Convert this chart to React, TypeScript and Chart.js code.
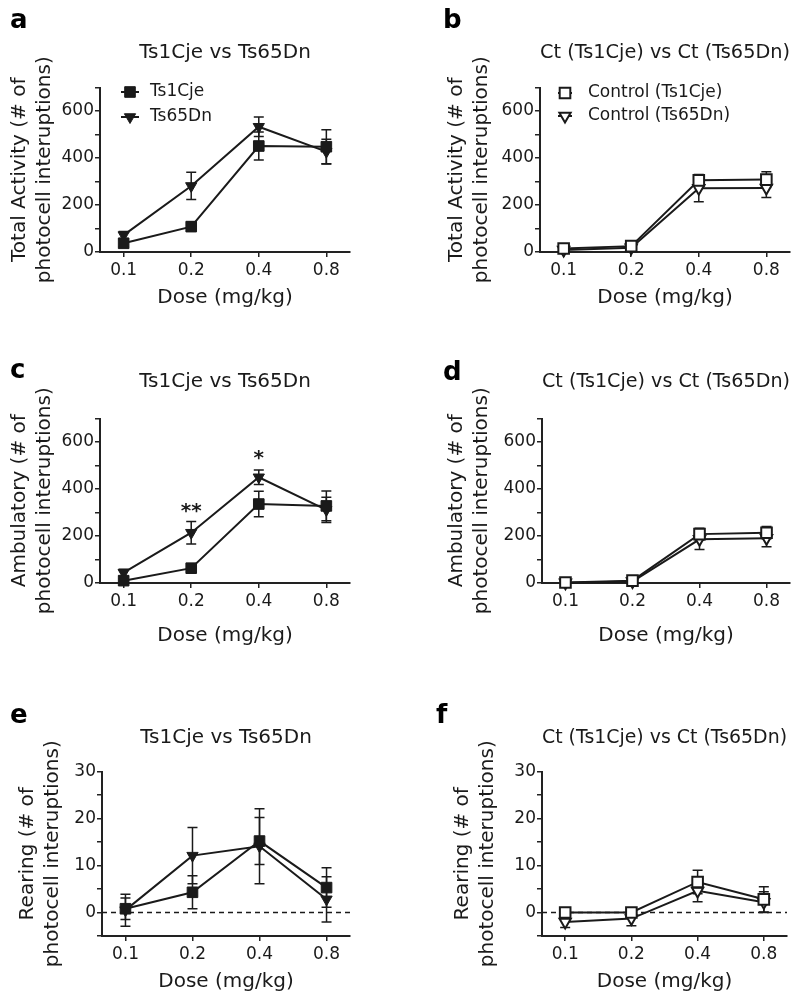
import React, { useEffect, useRef } from 'react';
import { Chart, registerables } from 'chart.js';

Chart.register(...registerables);

const FONT = 'DejaVu Sans';
const INK = '#1a1a1a';

// ---- data ----
const doseLabels = ['0.1', '0.2', '0.4', '0.8'];
const doseIndex = [0, 1, 2, 3];

const countTicks = [0, 100, 200, 300, 400, 500, 600, 700];
const countTickLabels = [0, 200, 400, 600];
const rearTicks = [-5, 0, 5, 10, 15, 20, 25, 30];
const rearTickLabels = [0, 10, 20, 30];

// Total activity
const totalTs1Cje = [37, 108, 451, 448];
const totalTs1CjeErr = [15, 20, 60, 72];
const totalTs65Dn = [72, 281, 533, 427];
const totalTs65DnErr = [15, 58, 42, 53];
const totalCtTs1Cje = [15, 25, 305, 308];
const totalCtTs1CjeErr = [10, 10, 25, 33];
const totalCtTs65Dn = [8, 18, 271, 272];
const totalCtTs65DnErr = [8, 10, 57, 40];

// Ambulatory
const ambTs1Cje = [10, 63, 336, 328];
const ambTs1CjeErr = [8, 15, 54, 63];
const ambTs65Dn = [44, 214, 450, 311];
const ambTs65DnErr = [15, 48, 31, 54];
const ambCtTs1Cje = [2, 10, 208, 214];
const ambCtTs1CjeErr = [4, 6, 25, 26];
const ambCtTs65Dn = [1, 6, 186, 190];
const ambCtTs65DnErr = [3, 5, 43, 36];
const ambSigMarks = ['', '**', '*', ''];
const ambSigY = [null, 305, 530, null];

// Rearing
const rearTs1Cje = [0.8, 4.3, 15.2, 5.3];
const rearTs1CjeErr = [2.3, 3.5, 5, 4.2];
const rearTs65Dn = [0.5, 12.1, 14.1, 2.8];
const rearTs65DnErr = [3.4, 6, 8, 4.8];
const rearCtTs1Cje = [0, 0, 6.5, 2.8];
const rearCtTs1CjeErr = [1, 1, 2.5, 2.7];
const rearCtTs65Dn = [-2.0, -1.3, 4.6, 2.2];
const rearCtTs65DnErr = [1.2, 1.5, 2.3, 2.2];

const yTitleTotal = ['Total Activity (# of', 'photocell interuptions)'];
const yTitleAmb = ['Ambulatory (# of', 'photocell interuptions)'];
const yTitleRear = ['Rearing (# of', 'photocell interuptions)'];
const titleTg = 'Ts1Cje vs Ts65Dn';
const titleCt = 'Ct (Ts1Cje) vs Ct (Ts65Dn)';

type Series = { label: string; values: number[]; errors: number[]; shape: 'rect' | 'triangle'; open: boolean };

const tgSeries = (v1: number[], e1: number[], v2: number[], e2: number[]): Series[] => [
  { label: 'Ts1Cje', values: v1, errors: e1, shape: 'rect', open: false },
  { label: 'Ts65Dn', values: v2, errors: e2, shape: 'triangle', open: false },
];
const ctSeries = (v1: number[], e1: number[], v2: number[], e2: number[]): Series[] => [
  { label: 'Control (Ts1Cje)', values: v1, errors: e1, shape: 'rect', open: true },
  { label: 'Control (Ts65Dn)', values: v2, errors: e2, shape: 'triangle', open: true },
];

type Panel = {
  letter: string;
  title: string;
  yTitle: string[];
  series: Series[];
  yMin: number;
  yMax: number;
  yTicks: number[];
  yLabels: number[];
  box: { left: number; top: number; width: number; height: number };
  yW: number;
  padRight: number;
  titlePad: [number, number];
  xH: number;
  xTitlePb: number;
  yTitlePt: number;
  letterPos: [number, number];
  legend?: { x: number; y: number; dy: number; textX: number; half: number };
  zeroLine?: boolean;
  sig?: { marks: string[]; ys: (number | null)[] };
};

const panels: Panel[] = [
  {
    letter: 'a', title: titleTg, yTitle: yTitleTotal,
    series: tgSeries(totalTs1Cje, totalTs1CjeErr, totalTs65Dn, totalTs65DnErr),
    yMin: 0, yMax: 700, yTicks: countTicks, yLabels: countTickLabels,
    box: { left: 0, top: 0, width: 400, height: 320 }, yW: 100, padRight: 50,
    titlePad: [41, 22.5], xH: 68, xTitlePb: 10, yTitlePt: 7.5, letterPos: [10, 28],
    legend: { x: 130, y: 92, dy: 25, textX: 150, half: 9 },
  },
  {
    letter: 'b', title: titleCt, yTitle: yTitleTotal,
    series: ctSeries(totalCtTs1Cje, totalCtTs1CjeErr, totalCtTs65Dn, totalCtTs65DnErr),
    yMin: 0, yMax: 700, yTicks: countTicks, yLabels: countTickLabels,
    box: { left: 430, top: 0, width: 370, height: 320 }, yW: 110, padRight: 10,
    titlePad: [41, 22.5], xH: 68, xTitlePb: 10, yTitlePt: 14.5, letterPos: [13, 28],
    legend: { x: 135, y: 93, dy: 23, textX: 158, half: 7 },
  },
  {
    letter: 'c', title: titleTg, yTitle: yTitleAmb,
    series: tgSeries(ambTs1Cje, ambTs1CjeErr, ambTs65Dn, ambTs65DnErr),
    yMin: 0, yMax: 700, yTicks: countTicks, yLabels: countTickLabels,
    box: { left: 0, top: 320, width: 400, height: 340 }, yW: 100, padRight: 50,
    titlePad: [50, 24.5], xH: 77, xTitlePb: 12, yTitlePt: 7.5, letterPos: [10, 58],
    sig: { marks: ambSigMarks, ys: ambSigY },
  },
  {
    letter: 'd', title: titleCt, yTitle: yTitleAmb,
    series: ctSeries(ambCtTs1Cje, ambCtTs1CjeErr, ambCtTs65Dn, ambCtTs65DnErr),
    yMin: 0, yMax: 700, yTicks: countTicks, yLabels: countTickLabels,
    box: { left: 430, top: 320, width: 370, height: 340 }, yW: 112, padRight: 10,
    titlePad: [50, 24.5], xH: 77, xTitlePb: 12, yTitlePt: 14.5, letterPos: [13, 60],
  },
  {
    letter: 'e', title: titleTg, yTitle: yTitleRear,
    series: tgSeries(rearTs1Cje, rearTs1CjeErr, rearTs65Dn, rearTs65DnErr),
    yMin: -5, yMax: 30, yTicks: rearTicks, yLabels: rearTickLabels,
    box: { left: 0, top: 660, width: 400, height: 341 }, yW: 102, padRight: 50,
    titlePad: [66, 21.5], xH: 65, xTitlePb: 7.5, yTitlePt: 15.5, letterPos: [10, 63],
    zeroLine: true,
  },
  {
    letter: 'f', title: titleCt, yTitle: yTitleRear,
    series: ctSeries(rearCtTs1Cje, rearCtTs1CjeErr, rearCtTs65Dn, rearCtTs65DnErr),
    yMin: -5, yMax: 30, yTicks: rearTicks, yLabels: rearTickLabels,
    box: { left: 430, top: 660, width: 370, height: 341 }, yW: 112, padRight: 13,
    titlePad: [66, 21.5], xH: 65, xTitlePb: 7.5, yTitlePt: 20.5, letterPos: [6, 63],
    zeroLine: true,
  },
];

const RECT_R = 7.5;
const TRI_R = 6.5;

function drawMarker(ctx: CanvasRenderingContext2D, s: Series, x: number, y: number) {
  ctx.save();
  ctx.beginPath();
  if (s.shape === 'rect') {
    const h = RECT_R * Math.SQRT1_2;
    ctx.rect(x - h, y - h, 2 * h, 2 * h);
  } else {
    const r = TRI_R;
    let rad = Math.PI;
    ctx.moveTo(x + Math.sin(rad) * r, y - Math.cos(rad) * r);
    rad += (2 * Math.PI) / 3;
    ctx.lineTo(x + Math.sin(rad) * r, y - Math.cos(rad) * r);
    rad += (2 * Math.PI) / 3;
    ctx.lineTo(x + Math.sin(rad) * r, y - Math.cos(rad) * r);
    ctx.closePath();
  }
  ctx.fillStyle = s.open ? '#ffffff' : INK;
  ctx.fill();
  ctx.lineWidth = s.open ? 2 : 1;
  ctx.strokeStyle = INK;
  ctx.stroke();
  ctx.restore();
}

function makePlugin(p: Panel) {
  return {
    id: 'panelExtras',
    beforeDatasetsDraw(chart: any) {
      const ctx: CanvasRenderingContext2D = chart.ctx;
      const ys = chart.scales.y;
      const area = chart.chartArea;
      if (p.zeroLine) {
        const y0 = ys.getPixelForValue(0);
        ctx.save();
        ctx.strokeStyle = INK;
        ctx.lineWidth = 1.5;
        ctx.setLineDash([5, 4]);
        ctx.beginPath();
        ctx.moveTo(area.left, y0);
        ctx.lineTo(area.right, y0);
        ctx.stroke();
        ctx.restore();
      }
      // error bars
      chart.data.datasets.forEach((ds: any, i: number) => {
        const meta = chart.getDatasetMeta(i);
        const errs: number[] = ds.errors || [];
        ctx.save();
        ctx.strokeStyle = INK;
        ctx.lineWidth = 1.5;
        meta.data.forEach((pt: any, j: number) => {
          const v = ds.data[j].y;
          const e = errs[j] || 0;
          const top = ys.getPixelForValue(v + e);
          const bot = ys.getPixelForValue(v - e);
          const x = pt.x;
          ctx.beginPath();
          ctx.moveTo(x, top);
          ctx.lineTo(x, bot);
          ctx.moveTo(x - 5, top);
          ctx.lineTo(x + 5, top);
          ctx.moveTo(x - 5, bot);
          ctx.lineTo(x + 5, bot);
          ctx.stroke();
        });
        ctx.restore();
      });
    },
    afterDatasetsDraw(chart: any) {
      const ctx: CanvasRenderingContext2D = chart.ctx;
      const xs = chart.scales.x;
      const ys = chart.scales.y;
      if (p.sig) {
        ctx.save();
        ctx.fillStyle = INK;
        ctx.font = `bold 20px "${FONT}"`;
        ctx.textAlign = 'center';
        ctx.textBaseline = 'middle';
        p.sig.marks.forEach((m, i) => {
          const yv = p.sig!.ys[i];
          if (!m || yv === null) return;
          ctx.fillText(m, xs.getPixelForValue(doseIndex[i]), ys.getPixelForValue(yv));
        });
        ctx.restore();
      }
      if (p.legend) {
        const L = p.legend;
        p.series.forEach((s, i) => {
          const y = L.y + i * L.dy;
          ctx.save();
          ctx.strokeStyle = INK;
          ctx.lineWidth = 2;
          ctx.beginPath();
          ctx.moveTo(L.x - L.half, y);
          ctx.lineTo(L.x + L.half, y);
          ctx.stroke();
          ctx.restore();
          drawMarker(ctx, s, L.x, y);
          ctx.save();
          ctx.fillStyle = INK;
          ctx.font = `17px "${FONT}"`;
          ctx.textAlign = 'left';
          ctx.textBaseline = 'middle';
          ctx.fillText(s.label, L.textX, y);
          ctx.restore();
        });
      }
    },
    afterDraw(chart: any) {
      const ctx: CanvasRenderingContext2D = chart.ctx;
      ctx.save();
      ctx.fillStyle = '#000';
      ctx.font = `bold 26px "${FONT}"`;
      ctx.textAlign = 'left';
      ctx.textBaseline = 'alphabetic';
      ctx.fillText(p.letter, p.letterPos[0], p.letterPos[1]);
      ctx.restore();
    },
  };
}

function PanelChart({ p }: { p: Panel }) {
  const ref = useRef<HTMLCanvasElement | null>(null);
  useEffect(() => {
    if (!ref.current) return;
    const gridOpts = { display: true, drawOnChartArea: false, drawTicks: true, tickLength: 5, color: '#222', lineWidth: 1.5 };
    const borderOpts = { display: true, color: '#222', width: 2 };
    const chart = new Chart(ref.current, {
      type: 'line',
      data: {
        datasets: p.series.map((s) => ({
          label: s.label,
          data: s.values.map((v, i) => ({ x: doseIndex[i], y: v })),
          errors: s.errors,
          borderColor: INK,
          borderWidth: 2,
          pointStyle: s.shape,
          pointRotation: s.shape === 'triangle' ? 180 : 0,
          pointRadius: s.shape === 'rect' ? RECT_R : TRI_R,
          pointBackgroundColor: s.open ? '#ffffff' : INK,
          pointBorderColor: INK,
          pointBorderWidth: s.open ? 2 : 1,
          tension: 0,
          fill: false,
          clip: false,
        })) as any,
      },
      options: {
        responsive: false,
        animation: false,
        events: [],
        layout: { padding: { left: 0, top: 0, right: p.padRight, bottom: 0 } },
        plugins: {
          legend: { display: false },
          tooltip: { enabled: false },
          title: {
            display: true,
            text: p.title,
            fullSize: false,
            color: INK,
            font: { family: FONT, size: 20, weight: 'normal', lineHeight: 1.2 },
            padding: { top: p.titlePad[0], bottom: p.titlePad[1] },
          },
        },
        scales: {
          x: {
            type: 'linear',
            min: -0.35,
            max: 3.35,
            afterBuildTicks: (axis: any) => {
              axis.ticks = doseIndex.map((v) => ({ value: v }));
            },
            afterFit: (scale: any) => {
              scale.height = p.xH;
            },
            ticks: {
              callback: (v: any) => doseLabels[Number(v)] ?? '',
              color: INK,
              font: { family: FONT, size: 17 },
              padding: 3,
              maxRotation: 0,
              autoSkip: false,
            },
            grid: gridOpts,
            border: borderOpts,
            title: {
              display: true,
              text: 'Dose (mg/kg)',
              color: INK,
              font: { family: FONT, size: 20, lineHeight: 1.2 },
              padding: { top: 0, bottom: p.xTitlePb },
            },
          },
          y: {
            type: 'linear',
            min: p.yMin,
            max: p.yMax,
            afterBuildTicks: (axis: any) => {
              axis.ticks = p.yTicks.map((v) => ({ value: v }));
            },
            afterFit: (scale: any) => {
              scale.width = p.yW;
            },
            ticks: {
              callback: (v: any) => (p.yLabels.includes(Number(v)) ? String(v) : ''),
              color: INK,
              font: { family: FONT, size: 17 },
              padding: 1,
              autoSkip: false,
            },
            grid: gridOpts,
            border: borderOpts,
            title: {
              display: true,
              text: p.yTitle,
              color: INK,
              font: { family: FONT, size: 20, lineHeight: 1.25 },
              padding: { top: p.yTitlePt, bottom: 0 },
            },
          },
        },
      } as any,
      plugins: [makePlugin(p) as any],
    });
    return () => chart.destroy();
  }, [p]);
  return (
    <canvas
      ref={ref}
      width={p.box.width}
      height={p.box.height}
      style={{ position: 'absolute', left: p.box.left, top: p.box.top, width: p.box.width, height: p.box.height }}
    />
  );
}

export default function App() {
  return (
    <div style={{ position: 'absolute', left: 0, top: 0, width: 800, height: 1001, background: '#ffffff', overflow: 'hidden' }}>
      {panels.map((p) => (
        <PanelChart key={p.letter} p={p} />
      ))}
    </div>
  );
}
